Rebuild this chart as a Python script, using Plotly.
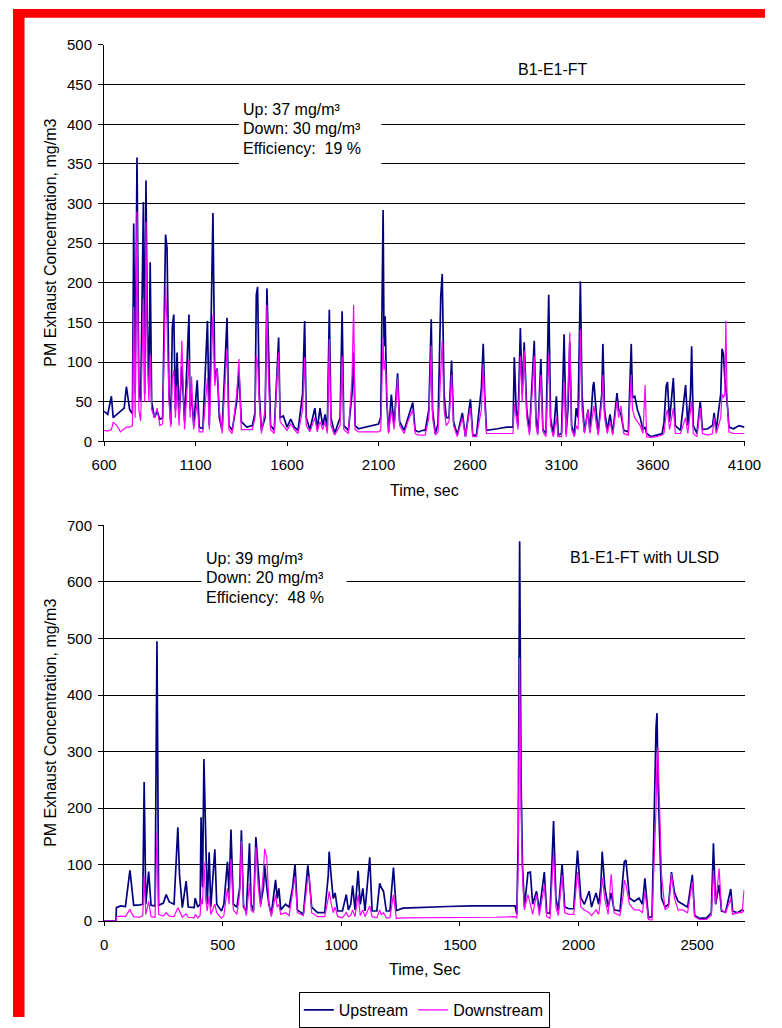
import plotly.graph_objects as go

W, H = 782, 1028

# ---------------- data: top chart (B1-E1-FT) ----------------
t_top = [600, 620, 640, 650, 670, 690, 710, 722, 740, 755, 762, 770, 780, 790, 800, 815, 822, 829, 836, 845,
         852, 860, 875, 890, 905, 920, 936, 944, 955, 965, 973, 981, 990, 999, 1010, 1025, 1040, 1064, 1070, 1078,
         1090, 1109, 1120, 1140, 1165, 1175, 1195, 1205, 1218, 1230, 1245, 1272, 1282, 1300, 1325, 1337, 1350, 1380, 1410, 1425,
         1432, 1439, 1448, 1460, 1480, 1490, 1498, 1510, 1530, 1545, 1554, 1562, 1580, 1600, 1620, 1640, 1660, 1685, 1696, 1705,
         1725, 1752, 1765, 1780, 1795, 1808, 1820, 1831, 1840, 1860, 1890, 1901, 1910, 1935, 1955, 1964, 1972, 1990, 2030, 2070,
         2100, 2112, 2120, 2125, 2130, 2136, 2145, 2155, 2170, 2185, 2204, 2215, 2240, 2260, 2287, 2300, 2320, 2340, 2355, 2375,
         2388, 2395, 2410, 2425, 2440, 2448, 2458, 2470, 2485, 2499, 2510, 2530, 2558, 2575, 2595, 2602, 2615, 2635, 2662, 2672,
         2680, 2690, 2750, 2800, 2835, 2842, 2852, 2862, 2875, 2885, 2896, 2910, 2925, 2951, 2960, 2970, 2987, 2998, 3015, 3030,
         3040, 3055, 3072, 3082, 3100, 3114, 3125, 3135, 3145, 3155, 3170, 3180, 3190, 3198, 3203, 3212, 3225, 3245, 3255, 3272,
         3277, 3285, 3300, 3320, 3326, 3335, 3350, 3365, 3380, 3403, 3412, 3425, 3440, 3465, 3475, 3481, 3488, 3500, 3515, 3530,
         3545, 3557, 3565, 3590, 3620, 3650, 3660, 3672, 3679, 3690, 3711, 3722, 3750, 3778, 3790, 3805, 3811, 3820, 3840, 3858,
         3870, 3900, 3925, 3934, 3945, 3970, 3977, 3985, 3992, 3998, 4005, 4015, 4040, 4070, 4100]
up_top = [38, 34, 57, 30, 34, 38, 42, 69, 40, 35, 275, 60, 358, 70, 50, 302, 60, 329, 150, 67,
          226, 50, 30, 38, 28, 30, 261, 244, 60, 22, 145, 160, 40, 112, 30, 95, 25, 160, 40, 60,
          20, 77, 18, 16, 152, 20, 288, 80, 92, 30, 14, 156, 20, 14, 50, 88, 25, 18, 20, 36,
          185, 195, 60, 14, 30, 193, 127, 20, 14, 90, 131, 30, 32, 18, 28, 18, 14, 60, 152, 30,
          15, 42, 15, 42, 20, 34, 15, 166, 30, 10, 30, 164, 20, 14, 60, 112, 20, 16, 18, 20,
          22, 30, 200, 292, 120, 158, 50, 12, 59, 20, 86, 25, 14, 30, 49, 14, 12, 14, 14, 40,
          154, 40, 10, 22, 183, 211, 60, 30, 30, 102, 25, 8, 36, 6, 40, 53, 8, 8, 67, 123,
          60, 14, 16, 18, 18, 106, 40, 20, 143, 60, 125, 40, 12, 127, 30, 10, 104, 15, 10, 185,
          30, 8, 57, 8, 10, 135, 10, 40, 125, 20, 8, 42, 30, 120, 202, 60, 12, 40, 12, 70,
          75, 50, 10, 60, 123, 40, 14, 34, 10, 61, 40, 34, 14, 12, 98, 123, 55, 57, 40, 30,
          15, 18, 10, 6, 8, 10, 24, 70, 75, 25, 80, 20, 14, 71, 20, 60, 120, 20, 10, 51,
          15, 16, 20, 36, 14, 60, 117, 110, 80, 69, 50, 18, 16, 20, 18]
down_top = [14, 13, 15, 24, 20, 12, 16, 18, 18, 20, 170, 30, 290, 40, 26, 180, 50, 277, 110, 50,
            110, 40, 30, 42, 20, 22, 195, 150, 50, 18, 80, 90, 30, 70, 20, 127, 15, 104, 30, 82,
            15, 50, 12, 12, 80, 15, 160, 70, 92, 40, 10, 117, 15, 10, 60, 104, 15, 15, 15, 30,
            108, 100, 50, 10, 40, 172, 80, 15, 10, 80, 112, 25, 20, 14, 22, 15, 10, 40, 106, 20,
            12, 30, 12, 25, 15, 25, 10, 129, 20, 8, 20, 108, 15, 10, 80, 172, 15, 12, 12, 12,
            12, 14, 110, 131, 90, 102, 60, 10, 40, 15, 80, 20, 10, 25, 40, 10, 8, 8, 8, 30,
            121, 30, 8, 12, 90, 127, 40, 20, 25, 84, 20, 6, 30, 6, 35, 42, 6, 6, 40, 98,
            50, 10, 10, 10, 10, 47, 30, 15, 108, 50, 115, 30, 8, 108, 20, 8, 84, 12, 6, 110,
            20, 6, 30, 6, 6, 75, 6, 60, 137, 15, 6, 20, 15, 60, 141, 40, 10, 40, 10, 40,
            45, 30, 8, 50, 84, 30, 10, 25, 8, 51, 30, 45, 10, 8, 60, 84, 40, 30, 25, 20,
            10, 71, 6, 5, 6, 8, 10, 35, 40, 15, 42, 10, 10, 30, 10, 40, 51, 10, 6, 42,
            10, 8, 10, 30, 10, 30, 60, 55, 60, 152, 50, 12, 10, 10, 10]

# ---------------- data: bottom chart (B1-E1-FT with ULSD) ----------------
t_bot = [0, 40, 50, 52, 70, 90, 109, 115, 125, 150, 163, 169, 176, 188, 198, 215, 223, 230, 250, 262,
         275, 295, 311, 318, 330, 346, 355, 380, 384, 395, 405, 409, 415, 421, 428, 435, 443, 450, 467, 475,
         495, 505, 520, 527, 535, 545, 560, 572, 579, 588, 600, 613, 620, 630, 640, 650, 660, 672, 677, 686,
         695, 705, 718, 723, 730, 737, 745, 765, 780, 795, 805, 815, 840, 852, 859, 866, 875, 900, 930, 945,
         949, 958, 966, 974, 985, 1005, 1021, 1030, 1040, 1048, 1058, 1071, 1080, 1091, 1100, 1120, 1130, 1150, 1162, 1168,
         1178, 1190, 1205, 1220, 1232, 1260, 1350, 1450, 1550, 1650, 1733, 1740, 1746, 1752, 1758, 1764, 1772, 1787, 1797, 1807,
         1823, 1835, 1856, 1866, 1880, 1895, 1905, 1915, 1931, 1942, 1960, 1980, 1996, 2010, 2025, 2045, 2055, 2074, 2085, 2094,
         2100, 2111, 2125, 2138, 2150, 2175, 2190, 2193, 2200, 2215, 2235, 2255, 2270, 2280, 2295, 2310, 2327, 2331, 2335, 2341,
         2350, 2365, 2380, 2392, 2405, 2420, 2440, 2460, 2480, 2490, 2510, 2540, 2560, 2569, 2578, 2593, 2603, 2620, 2642, 2650,
         2670, 2690, 2698]
up_bot = [0, 0, 0, 24, 27, 26, 90, 67, 28, 29, 30, 246, 30, 88, 28, 27, 495, 28, 32, 47,
          34, 30, 166, 82, 24, 71, 25, 24, 41, 25, 30, 184, 60, 287, 122, 30, 122, 25, 127, 30,
          18, 30, 105, 50, 162, 30, 25, 60, 161, 25, 18, 138, 30, 18, 149, 87, 30, 60, 99, 60,
          30, 12, 60, 73, 40, 58, 20, 30, 25, 60, 101, 20, 12, 70, 99, 70, 25, 15, 15, 80,
          123, 76, 40, 50, 18, 18, 47, 20, 30, 63, 20, 89, 30, 58, 18, 113, 18, 18, 67, 60,
          53, 18, 18, 95, 19, 23, 25, 26, 27, 27, 27, 12, 150, 672, 250, 99, 25, 86, 87, 30,
          53, 18, 87, 15, 14, 177, 40, 18, 101, 25, 22, 22, 125, 41, 30, 53, 25, 50, 30, 60,
          123, 60, 25, 50, 20, 18, 90, 105, 108, 41, 35, 41, 30, 76, 6, 8, 342, 368, 250, 150,
          41, 25, 30, 87, 50, 35, 30, 25, 82, 10, 5, 6, 15, 138, 30, 64, 18, 16, 57, 18,
          15, 20, 18]
down_bot = [0, 0, 0, 8, 9, 8, 21, 15, 8, 7, 10, 79, 12, 35, 8, 7, 157, 12, 9, 15,
            9, 8, 24, 18, 7, 13, 7, 6, 12, 6, 10, 40, 30, 105, 40, 18, 44, 12, 30, 15,
            5, 10, 58, 30, 110, 20, 12, 50, 142, 30, 10, 67, 20, 15, 131, 60, 25, 90, 128, 113,
            30, 8, 40, 47, 25, 30, 12, 15, 10, 50, 79, 15, 10, 50, 79, 75, 15, 8, 8, 40,
            53, 30, 15, 25, 8, 6, 15, 8, 10, 20, 8, 47, 10, 20, 8, 27, 8, 6, 20, 12,
            15, 6, 6, 47, 5, 6, 6, 7, 7, 7, 8, 5, 100, 466, 200, 80, 20, 47, 30, 12,
            47, 10, 64, 8, 5, 122, 25, 10, 82, 15, 12, 12, 87, 25, 20, 15, 10, 20, 12, 40,
            77, 40, 12, 83, 15, 10, 50, 73, 65, 30, 20, 20, 15, 53, 3, 2, 200, 290, 307, 200,
            82, 20, 25, 84, 40, 20, 20, 15, 70, 8, 3, 3, 10, 90, 30, 93, 20, 15, 40, 12,
            15, 15, 55]

# tick values
x_top_ticks = [600, 1100, 1600, 2100, 2600, 3100, 3600, 4100]
y_top_ticks = [0, 50, 100, 150, 200, 250, 300, 350, 400, 450, 500]
x_bot_ticks = [0, 500, 1000, 1500, 2000, 2500]
y_bot_ticks = [0, 100, 200, 300, 400, 500, 600, 700]

NAVY = "#000080"
MAG = "#FF00FF"
FONT = "Liberation Sans, Arial, sans-serif"

fig = go.Figure()
fig.add_trace(go.Scatter(x=t_top, y=up_top, mode="lines", name="Upstream",
                         line=dict(color=NAVY, width=1.7), legendgroup="up",
                         xaxis="x", yaxis="y"))
fig.add_trace(go.Scatter(x=t_top, y=down_top, mode="lines", name="Downstream",
                         line=dict(color=MAG, width=1.2), legendgroup="down",
                         xaxis="x", yaxis="y"))
fig.add_trace(go.Scatter(x=t_bot, y=up_bot, mode="lines", name="Upstream",
                         line=dict(color=NAVY, width=1.7), legendgroup="up",
                         showlegend=False, xaxis="x2", yaxis="y2"))
fig.add_trace(go.Scatter(x=t_bot, y=down_bot, mode="lines", name="Downstream",
                         line=dict(color=MAG, width=1.2), legendgroup="down",
                         showlegend=False, xaxis="x2", yaxis="y2"))

def px_x(p):
    return p / W

def px_y(p):
    return 1 - p / H

left, right = 94.7, 760.7
top1, bot1 = 36.7, 441.0
top2, bot2 = 526.7, 930.3

axis_common = dict(showline=True, linecolor="black", linewidth=1, ticks="outside",
                   tickcolor="black", tickfont=dict(family=FONT, size=15, color="black"),
                   zeroline=False, fixedrange=True)

fig.update_layout(
    width=W, height=H,
    margin=dict(l=0, r=0, t=0, b=0),
    paper_bgcolor="white", plot_bgcolor="white",
    font=dict(family=FONT, size=15, color="black"),
    xaxis=dict(domain=[px_x(left), px_x(right)], range=[600, 4100], tickvals=x_top_ticks,
               showgrid=False, ticklen=4, ticklabelstandoff=6, anchor="y", **axis_common),
    yaxis=dict(domain=[px_y(bot1), px_y(top1)], range=[0, 500], tickvals=y_top_ticks,
               showgrid=True, gridcolor="black", gridwidth=1, ticklen=5, ticklabelstandoff=3,
               anchor="x", **axis_common),
    xaxis2=dict(domain=[px_x(left), px_x(right)], range=[0, 2700], tickvals=x_bot_ticks,
                showgrid=False, ticklen=4, ticklabelstandoff=6, anchor="y2", **axis_common),
    yaxis2=dict(domain=[px_y(bot2), px_y(top2)], range=[0, 700], tickvals=y_bot_ticks,
                showgrid=True, gridcolor="black", gridwidth=1, ticklen=5, ticklabelstandoff=3,
                anchor="x2", **axis_common),
    showlegend=True,
    legend=dict(orientation="h", x=px_x(427.7), xanchor="center", y=px_y(1003), yanchor="top",
                bordercolor="black", borderwidth=1, bgcolor="white",
                font=dict(family=FONT, size=16, color="black"), itemwidth=30,
                tracegroupgap=0),
)

shapes = [
    # red frame (left and top)
    dict(type="rect", xref="paper", yref="paper", x0=0, x1=px_x(12), y0=0, y1=1,
         fillcolor="#FF0000", line=dict(width=0), layer="above"),
    dict(type="rect", xref="paper", yref="paper", x0=0, x1=1, y0=px_y(9), y1=1,
         fillcolor="#FF0000", line=dict(width=0), layer="above"),
    # white boxes behind the summary text
    dict(type="rect", xref="paper", yref="paper", x0=px_x(235), x1=px_x(383), y0=px_y(162), y1=px_y(90),
         fillcolor="white", line=dict(width=0), layer="above"),
    dict(type="rect", xref="paper", yref="paper", x0=px_x(196), x1=px_x(347), y0=px_y(612), y1=px_y(548),
         fillcolor="white", line=dict(width=0), layer="above"),
]
fig.update_layout(shapes=shapes)

def txt(text, x, y, xanchor="left", size=16, angle=0):
    return dict(text=text, xref="paper", yref="paper", x=px_x(x), y=px_y(y),
                xanchor=xanchor, yanchor="middle", showarrow=False, textangle=angle,
                font=dict(family=FONT, size=size, color="black"))

annotations = [
    txt("Up: 37 mg/m³", 237, 103),
    txt("Down: 30 mg/m³", 237, 122),
    txt("Efficiency:  19 %", 237, 142),
    txt("B1-E1-FT", 561.7, 62, xanchor="center"),
    txt("Time, sec", 427.7, 491, xanchor="center"),
    txt("PM Exhaust Concentration, mg/m3", 39, (top1 + bot1) / 2, xanchor="center", angle=-90),
    txt("Up: 39 mg/m³", 199, 560),
    txt("Down: 20 mg/m³", 199, 580),
    txt("Efficiency:  48 %", 199, 600),
    txt("B1-E1-FT with ULSD", 657, 559, xanchor="center"),
    txt("Time, Sec", 427.7, 980, xanchor="center"),
    txt("PM Exhaust Concentration, mg/m3", 39, (top2 + bot2) / 2, xanchor="center", angle=-90),
]
fig.update_layout(annotations=annotations)

# the page body has a default 8px margin; remove it so the figure sits at (0, 0)
fig.write_html("out.html",
               post_script="document.body.style.margin='0';document.body.style.overflow='hidden';")
